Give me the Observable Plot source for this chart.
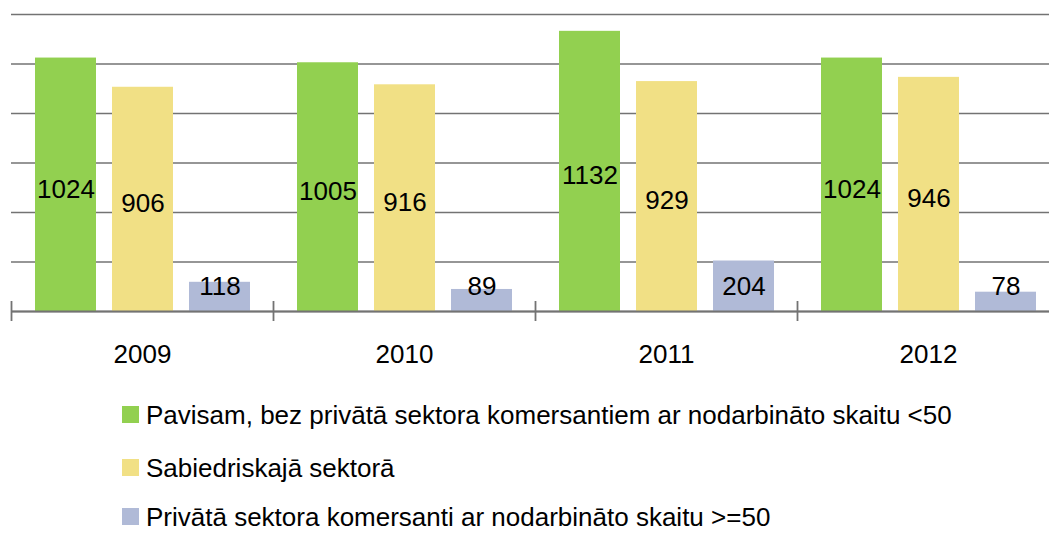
<!DOCTYPE html>
<html>
<head>
<meta charset="utf-8">
<script src="https://cdn.jsdelivr.net/npm/d3@7"></script>
<script src="https://cdn.jsdelivr.net/npm/@observablehq/plot@0.6"></script>
<style>
  html, body { margin: 0; padding: 0; background: #fff; overflow: hidden; }
  #wrap { width: 1049px; height: 533px; overflow: hidden; font-family: "Liberation Sans", Arial, Helvetica, sans-serif; }
  #chart { width: 1049px; height: 380px; overflow: hidden; }
  #chart svg { max-width: none !important; }
  #legend { padding-top: 8px; }
  .row { display: flex; align-items: center; height: 53px; padding-left: 122px; font-size: 26px; line-height: 22px; color: #000; }
  .row:last-child { height: 45px; }
  .sw { width: 17px; height: 17px; margin-right: 7px; flex: none; }
</style>
</head>
<body>
<div id="wrap">
  <div id="chart"></div>
  <div id="legend"></div>
</div>
<script>
const years = ["2009", "2010", "2011", "2012"];
const series = [
  "Pavisam, bez privātā sektora komersantiem ar nodarbināto skaitu <50",
  "Sabiedriskajā sektorā",
  "Privātā sektora komersanti ar nodarbināto skaitu >=50"
];
const pavisam = [1024, 1005, 1132, 1024];
const sabiedriskaja = [906, 916, 929, 946];
const privata = [118, 89, 204, 78];
const colors = ["#92d050", "#f1e085", "#b0bad7"];
const yTicks = [0, 200, 400, 600, 800, 1000, 1200];

const seriesValues = [pavisam, sabiedriskaja, privata];
const data = [];
years.forEach((yr, i) => {
  series.forEach((s, j) => data.push({year: yr, series: s, value: seriesValues[j][i]}));
});

const W = 1060, ML = 11, MR = 1;
const facetW = (W - ML - MR) / years.length;

const chart = Plot.plot({
  width: W,
  height: 380,
  marginLeft: ML,
  marginRight: MR,
  marginTop: 14,
  marginBottom: 69,
  fx: {domain: years, paddingInner: 0, paddingOuter: 0, label: null},
  x: {domain: series, paddingInner: 16 / 77, paddingOuter: 0.305, axis: null},
  y: {domain: [0, 1200], axis: null},
  color: {domain: series, range: colors},
  style: {fontFamily: '"Liberation Sans", Arial, Helvetica, sans-serif', fontSize: "26px", color: "#000", background: "#fff", maxWidth: "none", overflow: "visible"},
  marks: [
    Plot.ruleY(yTicks, {stroke: "#737373", strokeWidth: 1.6}),
    Plot.barY(data, {fx: "year", x: "series", y: "value", fill: "series"}),
    Plot.ruleY([0], {stroke: "#737373", strokeWidth: 1.8}),
    Plot.ruleX(years, {fx: d => d, x: null, y1: 0, y2: 0, insetTop: -10, insetBottom: -10, dx: -facetW / 2, stroke: "#737373", strokeWidth: 1.8}),
    Plot.text(data, {fx: "year", x: "series", y: d => Math.max(d.value / 2, 119), text: d => String(d.value), dy: 4.5, fill: "#000", fontSize: 26}),
    Plot.axisFx({anchor: "bottom", tickSize: 0, tickPadding: 33, fontSize: 26, fill: "#000", label: null})
  ]
});
document.getElementById("chart").appendChild(chart);

const legend = document.getElementById("legend");
series.forEach((s, j) => {
  const row = document.createElement("div");
  row.className = "row";
  const sw = document.createElement("span");
  sw.className = "sw";
  sw.style.background = colors[j];
  const t = document.createElement("span");
  t.textContent = s;
  row.appendChild(sw);
  row.appendChild(t);
  legend.appendChild(row);
});
</script>
</body>
</html>
